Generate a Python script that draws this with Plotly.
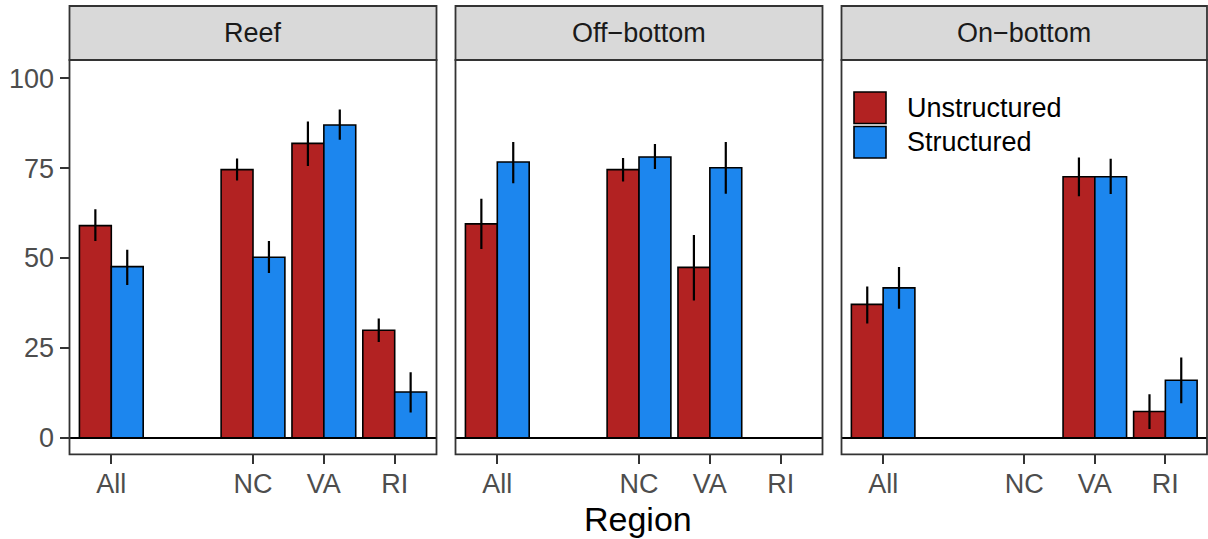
import plotly.graph_objects as go

# ---------------- data ----------------
regions = ["All", " ", "NC", "VA", "RI"]          # " " is the empty slot between All and NC
tick_regions = ["All", "NC", "VA", "RI"]
habitats = ["Reef", "Off−bottom", "On−bottom"]
groups = ["Unstructured", "Structured"]
colors = ["#B22222", "#1C86EE"]

reef_unstr = [59.0, None, 74.6, 81.9, 29.9]
reef_unstr_hi = [63.6, None, 77.7, 88.0, 33.2]
reef_unstr_lo = [54.7, None, 71.6, 75.6, 26.6]
reef_str = [47.6, None, 50.2, 87.0, 12.7]
reef_str_hi = [52.3, None, 54.7, 91.3, 18.2]
reef_str_lo = [42.5, None, 45.8, 82.9, 7.0]

off_unstr = [59.5, None, 74.6, 47.4, None]
off_unstr_hi = [66.5, None, 77.8, 56.4, None]
off_unstr_lo = [52.5, None, 71.3, 38.2, None]
off_str = [76.7, None, 78.1, 75.1, None]
off_str_hi = [82.3, None, 81.7, 82.3, None]
off_str_lo = [70.8, None, 74.8, 67.9, None]

on_unstr = [37.1, None, None, 72.6, 7.3]
on_unstr_hi = [42.1, None, None, 78.0, 12.1]
on_unstr_lo = [31.8, None, None, 67.2, 2.4]
on_str = [41.7, None, None, 72.6, 16.0]
on_str_hi = [47.5, None, None, 77.6, 22.3]
on_str_lo = [35.9, None, None, 67.8, 9.6]

y_ticks = [0, 25, 50, 75, 100]

panels = [
    [(reef_unstr, reef_unstr_hi, reef_unstr_lo), (reef_str, reef_str_hi, reef_str_lo)],
    [(off_unstr, off_unstr_hi, off_unstr_lo), (off_str, off_str_hi, off_str_lo)],
    [(on_unstr, on_unstr_hi, on_unstr_lo), (on_str, on_str_hi, on_str_lo)],
]

# ---------------- layout geometry ----------------
W, H = 1208, 539
FONT = "Liberation Sans, Arial, Helvetica, sans-serif"
panel_x = [(69.5, 436.5), (455.5, 822.5), (841.5, 1207.0)]
panel_top, panel_bot = 60.0, 454.3
strip_top = 6.0


def px(x):
    return x / W


def py(y):
    return 1 - y / H


def diff(a, b):
    return [None if (u is None or v is None) else round(u - v, 3) for u, v in zip(a, b)]


fig = go.Figure()
shapes = []
annotations = []

for i, (hab, series) in enumerate(zip(habitats, panels)):
    n = "" if i == 0 else str(i + 1)
    xa, ya = "x" + n, "y" + n
    for g, (vals, hi, lo), col in zip(groups, series, colors):
        fig.add_trace(go.Bar(
            x=regions, y=vals, name=g, xaxis=xa, yaxis=ya,
            offsetgroup=g, showlegend=False,
            marker=dict(color=col, line=dict(color="black", width=1.6)),
            error_y=dict(type="data", symmetric=False,
                         array=diff(hi, vals), arrayminus=diff(vals, lo),
                         color="black", thickness=2.2, width=0),
            hoverinfo="x+y+name",
        ))
    x0, x1 = panel_x[i]
    fig.layout["xaxis" + n] = dict(
        domain=[px(x0), px(x1)], anchor=ya, type="category",
        categoryorder="array", categoryarray=regions,
        range=[-0.59, 4.59], tickmode="array",
        tickvals=[regions.index(r) for r in tick_regions], ticktext=tick_regions,
        ticks="outside", ticklen=9, tickwidth=2.2, tickcolor="#333333",
        ticklabelstandoff=-4,
        tickfont=dict(family=FONT, size=27, color="#4D4D4D"),
        showgrid=False, zeroline=False, showline=False, fixedrange=True,
    )
    fig.layout["yaxis" + n] = dict(
        domain=[py(panel_bot), py(panel_top)], anchor=xa,
        range=[-4.62, 105.1], tickmode="array", tickvals=y_ticks,
        ticks="outside" if i == 0 else "", ticklen=9, tickwidth=2.2, tickcolor="#333333",
        showticklabels=(i == 0),
        tickfont=dict(family=FONT, size=27, color="#4D4D4D"),
        showgrid=False, zeroline=True, zerolinecolor="black", zerolinewidth=2,
        showline=False, fixedrange=True,
    )
    # panel border
    shapes.append(dict(type="rect", xref=xa + " domain", yref=ya + " domain",
                       x0=0, x1=1, y0=0, y1=1, line=dict(color="#333333", width=1.8),
                       fillcolor="rgba(0,0,0,0)", layer="above"))
    # strip
    shapes.append(dict(type="rect", xref="paper", yref="paper",
                       x0=px(x0), x1=px(x1), y0=py(panel_top), y1=py(strip_top),
                       line=dict(color="#333333", width=1.8), fillcolor="#D9D9D9"))
    annotations.append(dict(text=hab, xref="paper", yref="paper",
                            x=px((x0 + x1) / 2), y=py((panel_top + strip_top) / 2),
                            xanchor="center", yanchor="middle", showarrow=False,
                            font=dict(family=FONT, size=27, color="#1A1A1A")))

# x-axis title
annotations.append(dict(text="Region", xref="paper", yref="paper",
                        x=px((panel_x[0][0] + panel_x[2][1]) / 2), y=py(519),
                        xanchor="center", yanchor="middle", showarrow=False,
                        font=dict(family=FONT, size=34, color="black")))

# legend (inside the On-bottom panel)
key_x0, key_x1 = 854, 886
key_rows = [(92, 123.5), (126.5, 158)]
for g, col, (k0, k1) in zip(groups, colors, key_rows):
    shapes.append(dict(type="rect", xref="paper", yref="paper",
                       x0=px(key_x0), x1=px(key_x1), y0=py(k1), y1=py(k0),
                       line=dict(color="black", width=1.6), fillcolor=col))
    annotations.append(dict(text=g, xref="paper", yref="paper",
                            x=px(905), y=py((k0 + k1) / 2),
                            xanchor="left", yanchor="middle", showarrow=False,
                            font=dict(family=FONT, size=27, color="black")))

fig.update_layout(
    width=W, height=H, autosize=False,
    margin=dict(l=0, r=0, t=0, b=0),
    paper_bgcolor="white", plot_bgcolor="white",
    barmode="group", bargap=0.1, bargroupgap=0,
    showlegend=False, shapes=shapes, annotations=annotations,
    font=dict(family=FONT),
)

fig.write_html(
    "out.html",
    config={"displayModeBar": False},
    post_script="document.body.style.margin='0px';document.body.style.overflow='hidden';",
)
